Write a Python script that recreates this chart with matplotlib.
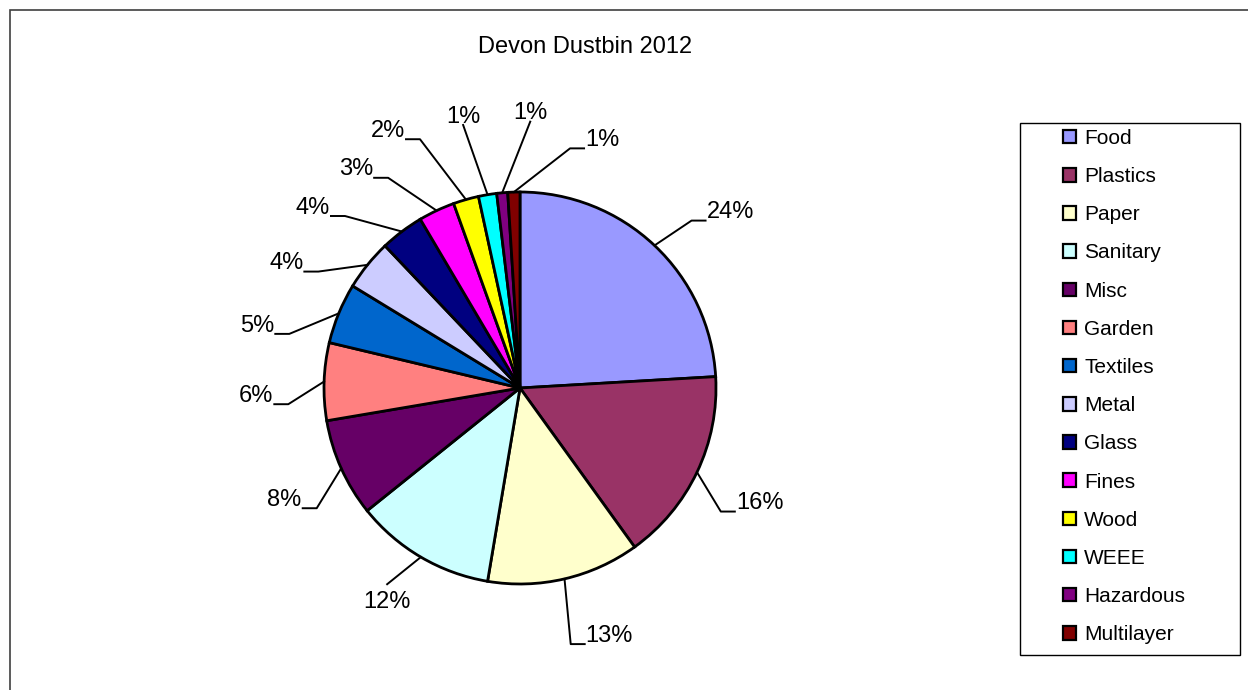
import numpy as np
import matplotlib.pyplot as plt
from matplotlib.patches import Patch, Rectangle

plt.rcParams['font.family'] = ['Liberation Sans', 'DejaVu Sans']

categories = ["Food", "Plastics", "Paper", "Sanitary", "Misc", "Garden", "Textiles",
              "Metal", "Glass", "Fines", "Wood", "WEEE", "Hazardous", "Multilayer"]
shares = [24.1, 16.0, 12.6, 11.6, 8.1, 6.4, 5.0, 4.2, 3.6, 3.0, 2.1, 1.5, 0.9, 1.0]
colors = ["#9999FF", "#993366", "#FFFFCC", "#CCFFFF", "#660066", "#FF8080", "#0066CC",
          "#CCCCFF", "#000080", "#FF00FF", "#FFFF00", "#00FFFF", "#800080", "#800000"]

# leader line bend points: degrees clockwise from 12 o'clock, radius in pie radii
label_angle = [45.7, 121.6, 168.8, 214.1, 239.4, 266.0, 283.2, 300.0, 314.5, 327.9, 338.1, 347.8, 2.2, 11.8]
label_radius = [1.223, 1.203, 1.332, 1.209, 1.205, 1.185, 1.209, 1.188, 1.252, 1.266, 1.368, 1.373, 1.36, 1.249]
# 'h' = short horizontal tail to the text, 'below' / 'above' = text sits at the line end
label_style = ['h', 'h', 'h', 'below', 'h', 'h', 'h', 'h', 'h', 'h', 'h', 'above', 'above', 'h']

W, H = 1248, 690
fig = plt.figure(figsize=(W / 100, H / 100), dpi=100)

# outer chart frame (runs off the right and bottom edges)
fig.patches.append(Rectangle((10 / W, -0.1), 1.2, 1 - 10 / H + 0.1, transform=fig.transFigure,
                             fill=False, edgecolor='#404040', linewidth=1.2))

fig.text(585 / W, 1 - 47 / H, "Devon Dustbin 2012", ha='center', va='center', fontsize=17)

# pie axes: 600px square centred on the pie, radius 196px
cx, cy, R, box = 520, 388, 196, 600
ax = fig.add_axes([(cx - box / 2) / W, (H - cy - box / 2) / H, box / W, box / H])
lim = box / 2 / R
wedges, _ = ax.pie(shares, colors=colors, startangle=90, counterclock=False, radius=1,
                   wedgeprops=dict(edgecolor='black', linewidth=2.0))
ax.set_xlim(-lim, lim)
ax.set_ylim(-lim, lim)
ax.set_aspect('equal')
ax.axis('off')

total = sum(shares)
tail = 14 / R
start = 0.0
for i, s in enumerate(shares):
    mid = np.radians((start + s / 2) / total * 360)
    start += s
    ex, ey = np.sin(mid), np.cos(mid)
    a = np.radians(label_angle[i])
    bx, by = label_radius[i] * np.sin(a), label_radius[i] * np.cos(a)
    txt = f"{round(s / total * 100)}%"
    if label_style[i] == 'h':
        side = 1 if bx > 0 else -1
        tx = bx + side * tail
        ax.plot([ex, bx, tx], [ey, by, by], color='black', linewidth=1.4, clip_on=False)
        ax.text(tx + side * 0.005, by + 0.012, txt, ha='left' if side > 0 else 'right',
                va='baseline', fontsize=17, clip_on=False)
    else:
        ax.plot([ex, bx], [ey, by], color='black', linewidth=1.4, clip_on=False)
        if label_style[i] == 'below':
            ax.text(bx, by - 0.035, txt, ha='center', va='top', fontsize=17, clip_on=False)
        else:
            ax.text(bx, by + 0.012, txt, ha='center', va='baseline', fontsize=17, clip_on=False)

# legend frame and entries
fig.patches.append(Rectangle((1020 / W, 1 - 655 / H), 220 / W, 532 / H, transform=fig.transFigure,
                             fill=False, edgecolor='black', linewidth=1.0))
handles = [Patch(facecolor=c, edgecolor='black', linewidth=1.6) for c in colors]
fig.legend(handles, categories, loc='upper left', bbox_to_anchor=(1063 / W, 1 - 129 / H),
           frameon=False, fontsize=15, handlelength=0.62, handleheight=0.62,
           handletextpad=0.4, labelspacing=0.92, borderpad=0, borderaxespad=0)

fig.savefig("out.png", dpi=100)
